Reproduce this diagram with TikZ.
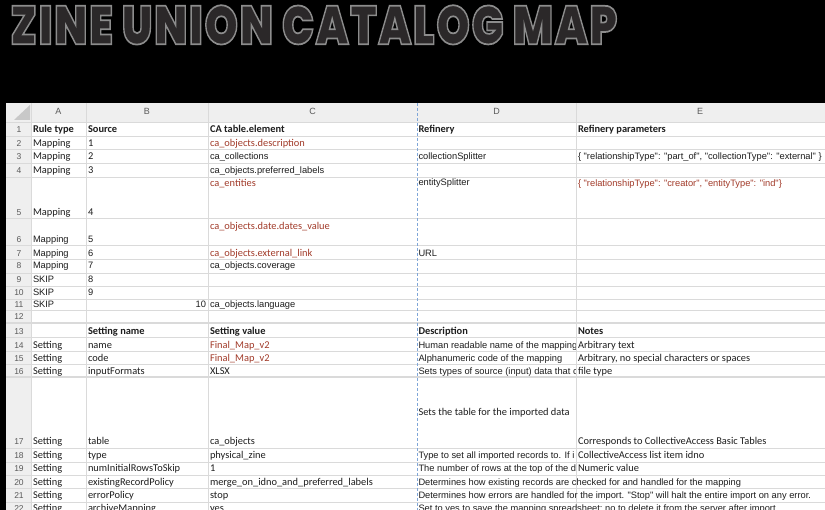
\documentclass[tikz,border=0pt]{standalone}
\usepackage{fontspec}
\usepackage{graphicx}
\setmainfont{Carlito}
\newfontfamily\arialf{Liberation Sans}
\IfFontExistsTF{Poppins ExtraBold}
  {\newfontfamily\titlefont{Poppins ExtraBold}[LetterSpace=4]}
  {\newfontfamily\titlefont{Poppins}[LetterSpace=4]}
\definecolor{redtx}{HTML}{A23B2A}
\definecolor{gridc}{HTML}{DADADA}
\definecolor{hdrbg}{HTML}{EFEFEF}
\definecolor{hdrtx}{HTML}{5A5A5A}
\definecolor{pbreak}{HTML}{7FA6D8}
\definecolor{titlefill}{HTML}{2B2829}
\definecolor{txt}{HTML}{1E1E1E}
\newcommand\cel[5]{\node[cellbase,#4] (#1) at (#2,#3) {#5};}
\tikzset{
  cellbase/.style={anchor=base west, inner sep=0pt, outer sep=0pt, text=txt},
  cal/.style={font=\fontsize{10.4}{12}\selectfont},
  calb/.style={font=\bfseries\fontsize{10.4}{12}\selectfont},
  ari/.style={font=\arialf\fontsize{9.3}{11}\selectfont},
  rtx/.style={text=redtx},
  rown/.style={anchor=base, inner sep=0pt, font=\arialf\fontsize{8.5}{10}\selectfont, text=hdrtx},
  coll/.style={anchor=base, inner sep=0pt, font=\arialf\fontsize{9}{10}\selectfont, text=hdrtx},
  gridline/.style={draw=gridc, line width=0.8pt},
  thickgrid/.style={draw=gridc, line width=2.4pt},
}
\begin{document}
\begin{tikzpicture}[x=1pt,y=-1pt]
\fill[black] (0,0) rectangle (825,510);
\useasboundingbox (0,0) rectangle (825,510);
% title
\node[anchor=north west, inner sep=0pt] (title) at (10,5)
  {\resizebox{607pt}{39pt}{\titlefont\bfseries\color{titlefill}\special{pdf:literal direct 2 Tr 0.32 w 0.55 G}ZINE UNION CATALOG MAP\special{pdf:literal direct 0 Tr}}};
% sheet
\fill[white] (6,103) rectangle (825,510);
\fill[hdrbg] (6,103) rectangle (825,122);
\fill[hdrbg] (6,103) rectangle (31,510);
\fill[gridc!80!gray] (14,120) -- (30,120) -- (30,105) -- cycle;
% horizontal grid
\foreach \yy in {122,136,149,163,177,218,245,259,273,286,299,310,337,351,364,448,462,475,488,502}
  \draw[gridline] (6,\yy) -- (825,\yy);
\draw[thickgrid] (6,323) -- (825,323);
\draw[thickgrid] (6,377) -- (825,377);
% vertical grid
\foreach \xx in {31,86,208,576}
  \draw[gridline] (\xx,103) -- (\xx,510);
\draw[draw=pbreak, line width=0.9pt, dash pattern=on 3pt off 2pt] (417,103) -- (417,510);
% column letters
\node[coll] (colA) at (58.5,115) {A};
\node[coll] (colB) at (147,115) {B};
\node[coll] (colC) at (312.5,115) {C};
\node[coll] (colD) at (496.5,115) {D};
\node[coll] (colE) at (700,115) {E};
% row numbers
\node[rown] (n1) at (19,132.5) {1};
\node[rown] (n2) at (19,146.5) {2};
\node[rown] (n3) at (19,160) {3};
\node[rown] (n4) at (19,173.5) {4};
\node[rown] (n5) at (19,216) {5};
\node[rown] (n6) at (19,242.5) {6};
\node[rown] (n7) at (19,256.5) {7};
\node[rown] (n8) at (19,269) {8};
\node[rown] (n9) at (19,283) {9};
\node[rown] (n10) at (19,295.5) {10};
\node[rown] (n11) at (19,307.5) {11};
\node[rown] (n12) at (19,320) {12};
\node[rown] (n13) at (19,334.5) {13};
\node[rown] (n14) at (19,348.5) {14};
\node[rown] (n15) at (19,361.5) {15};
\node[rown] (n16) at (19,375) {16};
\node[rown] (n17) at (19,444.5) {17};
\node[rown] (n18) at (19,458.5) {18};
\node[rown] (n19) at (19,471.5) {19};
\node[rown] (n20) at (19,485.5) {20};
\node[rown] (n21) at (19,498.5) {21};
\node[rown] (n22) at (19,511.5) {22};
% row 1
\cel{a1}{33}{132.5}{calb}{Rule type}
\cel{b1}{88}{132.5}{calb}{Source}
\cel{c1}{210}{132.5}{calb}{CA table.element}
\cel{d1}{418.5}{132.5}{calb}{Refinery}
\cel{e1}{578}{132.5}{calb}{Refinery parameters}
% row 2
\cel{a2}{33}{146.5}{cal}{Mapping}
\cel{b2}{88}{146.5}{cal}{1}
\cel{c2}{210}{146.5}{cal,rtx}{ca\_objects.description}
% row 3
\cel{a3}{33}{160}{cal}{Mapping}
\cel{b3}{88}{160}{cal}{2}
\cel{c3}{210}{160}{ari}{ca\_collections}
\cel{d3}{418.5}{160}{ari}{collectionSplitter}
\cel{e3}{578}{160}{ari}{\{ "relationshipType": "part\_of", "collectionType": "external" \}}
% row 4
\cel{a4}{33}{173.5}{cal}{Mapping}
\cel{b4}{88}{173.5}{cal}{3}
\cel{c4}{210}{173.5}{ari}{ca\_objects.preferred\_labels}
% row 5
\cel{c5}{210}{186.5}{cal,rtx}{ca\_entities}
\cel{d5}{418.5}{185.5}{ari}{entitySplitter}
\cel{e5}{578}{186.5}{ari,rtx}{\{ "relationshipType": "creator", "entityType": "ind"\}}
\cel{a5}{33}{216}{cal}{Mapping}
\cel{b5}{88}{216}{cal}{4}
% row 6
\cel{c6}{210}{229.5}{cal,rtx}{ca\_objects.date.dates\_value}
\cel{a6}{33}{242.5}{ari}{Mapping}
\cel{b6}{88}{242.5}{ari}{5}
% row 7
\cel{a7}{33}{256.5}{ari}{Mapping}
\cel{b7}{88}{256.5}{ari}{6}
\cel{c7}{210}{256.5}{cal,rtx}{ca\_objects.external\_link}
\cel{d7}{418.5}{256.5}{ari}{URL}
% row 8
\cel{a8}{33}{269}{ari}{Mapping}
\cel{b8}{88}{269}{ari}{7}
\cel{c8}{210}{269}{ari}{ca\_objects.coverage}
% row 9-11
\cel{a9}{33}{283}{ari}{SKIP}
\cel{b9}{88}{283}{ari}{8}
\cel{a10}{33}{295.5}{ari}{SKIP}
\cel{b10}{88}{295.5}{ari}{9}
\cel{a11}{33}{307.5}{ari}{SKIP}
\node[cellbase, ari, anchor=base east] (b11) at (206,307.5) {10};
\cel{c11}{210}{307.5}{ari}{ca\_objects.language}
% row 13
\cel{b13}{88}{334.5}{calb}{Setting name}
\cel{c13}{210}{334.5}{calb}{Setting value}
\cel{d13}{418.5}{334.5}{calb}{Description}
\cel{e13}{578}{334.5}{calb}{Notes}
% rows 14-22 col A
\cel{a14}{33}{348.5}{cal}{Setting}
\cel{a15}{33}{361.5}{cal}{Setting}
\cel{a16}{33}{375}{cal}{Setting}
\cel{a17}{33}{444.5}{cal}{Setting}
\cel{a18}{33}{458.5}{cal}{Setting}
\cel{a19}{33}{471.5}{cal}{Setting}
\cel{a20}{33}{485.5}{cal}{Setting}
\cel{a21}{33}{498.5}{cal}{Setting}
\cel{a22}{33}{511.5}{cal}{Setting}
% col B
\cel{b14}{88}{348.5}{cal}{name}
\cel{b15}{88}{361.5}{cal}{code}
\cel{b16}{88}{375}{cal}{inputFormats}
\cel{b17}{88}{444.5}{cal}{table}
\cel{b18}{88}{458.5}{cal}{type}
\cel{b19}{88}{471.5}{cal}{numInitialRowsToSkip}
\cel{b20}{88}{485.5}{cal}{existingRecordPolicy}
\cel{b21}{88}{498.5}{cal}{errorPolicy}
\cel{b22}{88}{511.5}{cal}{archiveMapping}
% col C
\cel{c14}{210}{348.5}{cal,rtx}{Final\_Map\_v2}
\cel{c15}{210}{361.5}{cal,rtx}{Final\_Map\_v2}
\cel{c16}{210}{375}{cal}{XLSX}
\cel{c17}{210}{444.5}{cal}{ca\_objects}
\cel{c18}{210}{458.5}{cal}{physical\_zine}
\cel{c19}{210}{471.5}{cal}{1}
\cel{c20}{210}{485.5}{cal}{merge\_on\_idno\_and\_preferred\_labels}
\cel{c21}{210}{498.5}{cal}{stop}
\cel{c22}{210}{511.5}{cal}{yes}
% col D (clipped cells)
\begin{scope}
\clip (417.5,337) rectangle (575.5,475);
\cel{d14}{418.5}{348.5}{ari}{Human readable name of the mapping}
\cel{d15}{418.5}{361.5}{ari}{Alphanumeric code of the mapping}
\cel{d16}{418.5}{375}{ari}{Sets types of source (input) data that c}
\cel{d17}{418.5}{415.5}{cal}{Sets the table for the imported data}
\cel{d18}{418.5}{458.5}{ari}{Type to set all imported records to. If i}
\cel{d19}{418.5}{471.5}{ari}{The number of rows at the top of the d}
\end{scope}
\cel{d20}{418.5}{485.5}{ari}{Determines how existing records are checked for and handled for the mapping}
\cel{d21}{418.5}{498.5}{ari}{Determines how errors are handled for the import. "Stop" will halt the entire import on any error.}
\cel{d22}{418.5}{511.5}{ari}{Set to yes to save the mapping spreadsheet; no to delete it from the server after import.}
% col E
\cel{e14}{578}{348.5}{cal}{Arbitrary text}
\cel{e15}{578}{361.5}{cal}{Arbitrary, no special characters or spaces}
\cel{e16}{578}{375}{cal}{file type}
\cel{e17}{578}{444.5}{cal}{Corresponds to CollectiveAccess Basic Tables}
\cel{e18}{578}{458.5}{cal}{CollectiveAccess list item idno}
\cel{e19}{578}{471.5}{cal}{Numeric value}
\end{tikzpicture}
\end{document}
